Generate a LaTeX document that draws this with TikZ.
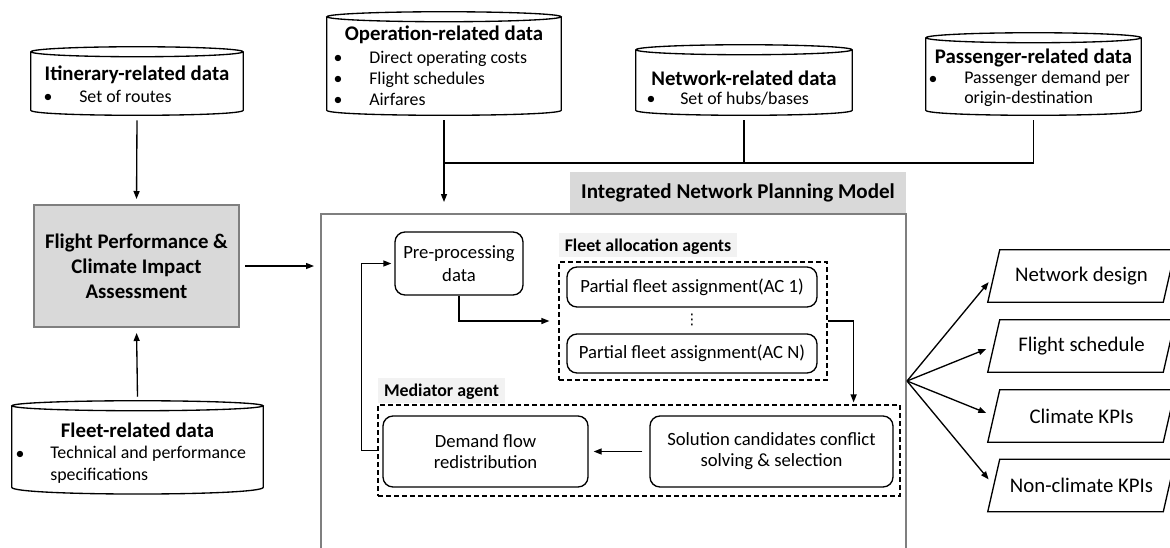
\documentclass[tikz,border=0pt]{standalone}
\usepackage{fontspec}
\setmainfont{Carlito}
\newfontfamily\djvfont{DejaVu Sans}
\usetikzlibrary{arrows.meta,calc}
\def\PX{0.75pt}
\definecolor{boxgray}{HTML}{D9D9D9}
\definecolor{labgray}{HTML}{F2F2F2}
\definecolor{edgegray}{HTML}{7F7F7F}
\newcommand\ftitle{\fontsize{15.6}{18.75}\selectfont\bfseries}
\newcommand\fhead{\fontsize{15.8}{18.75}\selectfont\bfseries}
\newcommand\fbul{\fontsize{13.4}{15}\selectfont}
\newcommand\fboxtext{\fontsize{14}{16.5}\selectfont}
\newcommand\flabel{\fontsize{13.4}{16}\selectfont\bfseries}
\newcommand\fout{\fontsize{15.6}{18}\selectfont}
\tikzset{
  outl/.style={draw=black, line width=1pt},
  conn/.style={draw=black, line width=1pt},
  arr/.style={conn, -{Triangle[length=6pt,width=4.5pt]}},
  rbox/.style={draw, line width=1pt, rounded corners=7.5pt, inner sep=0pt, align=center, font=\fboxtext},
  grp/.style={draw, line width=0.9pt, dash pattern=on 3.75pt off 2.25pt, inner sep=0pt},
  labbg/.style={fill=labgray, inner sep=0pt, font=\flabel, text height=9pt, text depth=0pt},
  cylbody/.style={inner sep=0pt},
  ttl/.style={font=\ftitle, inner sep=0pt, text height=10pt, text depth=0pt},
  bulmark/.style={font=\fbul, inner sep=0pt, text height=8pt, text depth=0pt},
  bultext/.style={font=\fbul, inner sep=0pt, anchor=west, text height=8pt, text depth=0pt},
  bulmulti/.style={font=\fbul, inner sep=0pt, anchor=west, align=left},
  outnode/.style={inner sep=0pt, font=\fout},
}
\newcommand\drawcyl[4]{%
  \draw[outl] (#1.north west) -- (#1.south west) .. controls +(0,#4) and +(0,#4) .. (#1.south east) -- (#1.north east);
  \draw[outl] (#1.north) ellipse [x radius=#2, y radius=#3];
}
\newcommand\drawpar[1]{%
  \draw[outl] ([xshift=-4.5pt]#1.south west) -- ([xshift=4.5pt]#1.north west) -- ([xshift=4.5pt]#1.north east) -- ([xshift=-4.5pt]#1.south east) -- cycle;
}
\begin{document}
\begin{tikzpicture}[x=0.75pt,y=-0.75pt]
\useasboundingbox (0,0) rectangle (1170,547);
\clip (0,0) rectangle (1170,547);

% ---------- data cylinders ----------
\node[cylbody, minimum width={212*\PX}, minimum height={58*\PX}] (itin) at (137,81) {};
\drawcyl{itin}{106}{5}{6.7}
\node[ttl] (itinT) at (137,74) {Itinerary-related data};
\node[bulmark] (itinM) at (48,97) {•};
\node[bultext] (itin1) at (79,97) {Set of routes};

\node[cylbody, minimum width={234*\PX}, minimum height={93*\PX}] (oper) at (444,63.5) {};
\drawcyl{oper}{117}{5}{6.7}
\node[ttl] (operT) at (444,34) {Operation-related data};
\node[bulmark] (operM1) at (338,58) {•};
\node[bulmark] (operM2) at (338,79) {•};
\node[bulmark] (operM3) at (338,100) {•};
\node[bultext] (oper1) at (369,58) {Direct operating costs};
\node[bultext] (oper2) at (369,79) {Flight schedules};
\node[bultext] (oper3) at (369,100) {Airfares};

\node[cylbody, minimum width={216*\PX}, minimum height={60*\PX}] (netw) at (744,80) {};
\drawcyl{netw}{108}{5}{6.7}
\node[ttl] (netwT) at (744,79) {Network-related data};
\node[bulmark] (netwM) at (651,99) {•};
\node[bultext] (netw1) at (680,99) {Set of hubs/bases};

\node[cylbody, minimum width={215*\PX}, minimum height={72*\PX}] (pass) at (1033.5,74) {};
\drawcyl{pass}{107.5}{5}{6.7}
\node[ttl] (passT) at (1033.5,57) {Passenger-related data};
\node[bulmark] (passM) at (933,79) {•};
\node[bulmulti] (pass1) at (964,89) {Passenger demand per\\origin-destination};

\node[cylbody, minimum width={251*\PX}, minimum height={81*\PX}] (fleet) at (137.5,446.5) {};
\drawcyl{fleet}{125.5}{5}{9}
\node[ttl] (fleetT) at (137.5,431) {Fleet-related data};
\node[bulmark] (fleetM) at (20,454) {•};
\node[font=\fbul, inner sep=0pt, anchor=west, align=left, execute at begin node={\setlength{\baselineskip}{16.5pt}}] (fleet1) at (50,465) {Technical and performance\\specifications};

% ---------- flight performance box ----------
\node[fill=boxgray, draw=edgegray, line width=1.5pt, minimum width={205*\PX}, minimum height={122*\PX}, inner sep=0pt, align=center, font=\ftitle] (flight) at (136.5,266) {Flight Performance \&\\Climate Impact\\Assessment};

% ---------- integrated model frame ----------
\node[fill=boxgray, minimum width={336*\PX}, minimum height={41*\PX}, inner sep=0pt, font=\fhead] (inpm) at (738,192.5) {Integrated Network Planning Model};
\node[draw=edgegray, line width=1.5pt, minimum width={585*\PX}, minimum height={386*\PX}, inner sep=0pt] (frame) at (613.5,407) {};

\node[rbox, minimum width={128*\PX}, minimum height={63*\PX}, execute at begin node={\setlength{\baselineskip}{17.25pt}}] (pre) at (459,263.5) {Pre-processing\\data};

\node[labbg, minimum width={178*\PX}, minimum height={24*\PX}] (fleetlab) at (648,245) {Fleet allocation agents};
\node[grp, minimum width={268*\PX}, minimum height={118*\PX}] (fleetgrp) at (693,321) {};
\node[rbox, minimum width={250*\PX}, minimum height={40*\PX}] (ac1) at (692,287) {Partial fleet assignment(AC 1)};
\node[inner sep=0pt, font=\djvfont\fontsize{11}{11}\selectfont] (dots) at (692,320) {⋮};
\node[rbox, minimum width={250*\PX}, minimum height={39*\PX}] (acn) at (692,353.5) {Partial fleet assignment(AC N)};

\node[labbg, minimum width={127*\PX}, minimum height={25*\PX}] (medlab) at (441.5,390.5) {Mediator agent};
\node[grp, minimum width={522*\PX}, minimum height={91*\PX}] (medgrp) at (639,450.5) {};
\node[rbox, minimum width={205*\PX}, minimum height={71*\PX}, execute at begin node={\setlength{\baselineskip}{15.75pt}}] (demand) at (485.5,451.5) {Demand flow\\redistribution};
\node[rbox, minimum width={243*\PX}, minimum height={71*\PX}, execute at begin node={\setlength{\baselineskip}{15.75pt}}] (solution) at (771.5,451.5) {Solution candidates conflict\\solving \& selection};

% ---------- outputs ----------
\node[outnode, minimum width={175*\PX}, minimum height={52*\PX}] (o1) at (1081.5,276) {Network design};
\node[outnode, minimum width={175*\PX}, minimum height={52*\PX}] (o2) at (1081.5,346) {Flight schedule};
\node[outnode, minimum width={175*\PX}, minimum height={52*\PX}] (o3) at (1081.5,416) {Climate KPIs};
\node[outnode, minimum width={175*\PX}, minimum height={52*\PX}] (o4) at (1081.5,485.5) {Non-climate KPIs};
\drawpar{o1}\drawpar{o2}\drawpar{o3}\drawpar{o4}

% ---------- connectors ----------
\coordinate (itinb) at ($(itin.south)+(0,10)$);
\coordinate (operb) at ($(oper.south)+(0,10)$);
\coordinate (netb) at ($(netw.south)+(0,10)$);
\coordinate (passb) at ($(pass.south)+(0,10)$);
\coordinate (busy) at (0,163);
\coordinate (bus) at (operb |- busy);

\draw[arr, shorten >=3.75pt] (itinb) -- (flight.north);
\draw[arr, shorten >=3.75pt] ($(fleet.north)+(0,-9)$) -- (flight.south);
\draw[arr, shorten >=8.25pt] (operb) -- (operb |- frame.north);
\draw[conn] (netb) -- (netb |- busy);
\draw[conn] (passb) -- (passb |- busy) -- (bus);
\draw[arr, shorten <=3.75pt, shorten >=4.5pt] (flight.east) -- (flight.east -| frame.west);

\draw[arr, shorten >=6.75pt] (pre.south) |- (fleetgrp.west);
\draw[arr, shorten >=1.5pt] (fleetgrp.east) -| ([xshift=19.5pt]fleetgrp.east |- medgrp.north);
\draw[arr, shorten <=5.25pt, shorten >=3.75pt] (solution.west) -- (demand.east);
\draw[arr, shorten >=2.25pt] (medgrp.west) -- ++(-16,0) |- (pre.west);

\coordinate (fan) at (907,381);
\foreach \o in {o1,o2,o3,o4} \draw[arr, shorten >=6pt] (fan) -- (\o.west);
\end{tikzpicture}
\end{document}
